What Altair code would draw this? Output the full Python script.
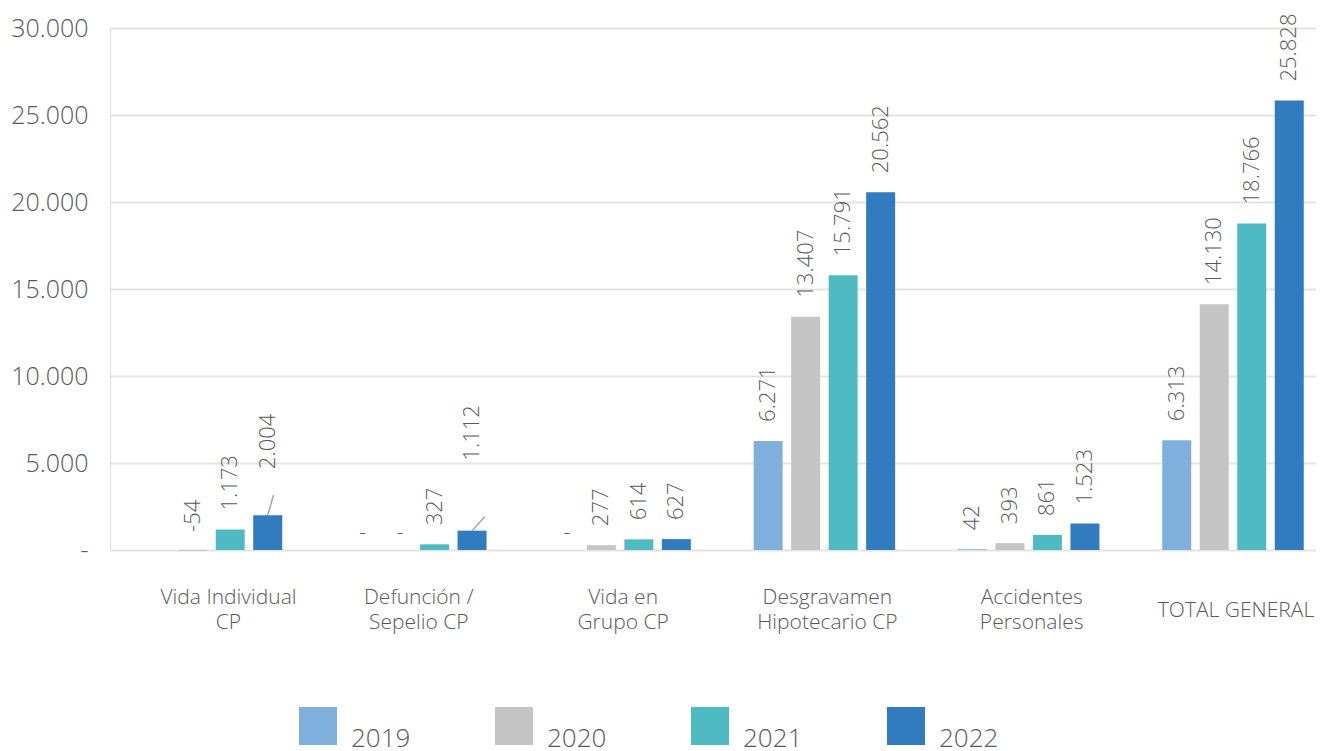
import altair as alt
import pandas as pd

categories = ["Vida Individual CP", "Defunción / Sepelio CP", "Vida en Grupo CP",
              "Desgravamen Hipotecario CP", "Accidentes Personales", "TOTAL GENERAL"]
category_lines = [["Vida Individual", "CP"], ["Defunción /", "Sepelio CP"], ["Vida en", "Grupo CP"],
                  ["Desgravamen", "Hipotecario CP"], ["Accidentes", "Personales"], ["TOTAL GENERAL"]]
years = ["2019", "2020", "2021", "2022"]
v2019 = [None, 0, 0, 6271, 42, 6313]
v2020 = [-54, 0, 277, 13407, 393, 14130]
v2021 = [1173, 327, 614, 15791, 861, 18766]
v2022 = [2004, 1112, 627, 20562, 1523, 25828]
colors = ["#7EAFDD", "#C5C5C5", "#4EBBC3", "#317BBF"]
y_ticks = [0, 5000, 10000, 15000, 20000, 25000, 30000]

rows = []
for yr, vals in zip(years, [v2019, v2020, v2021, v2022]):
    for c, v in zip(categories, vals):
        lbl = "" if v is None else f"{v:,}".replace(",", ".")
        rows.append({"cat": c, "year": yr, "value": v, "lbl": lbl})
df = pd.DataFrame(rows)

FONT = "Open Sans"
GREY = "#595959"

# x axis multi-line label expression
parts = []
for c, lines in zip(categories, category_lines):
    arr = "[" + ",".join("'" + l + "'" for l in lines) + "]"
    parts.append(f"datum.value == '{c}' ? {arr} : ")
x_label_expr = "".join(parts) + "datum.label"

y_label_expr = ("datum.value == 0 ? '-\u00a0\u00a0\u00a0' : "
                "replace(format(datum.value, ','), ',', '.')")

base = alt.Chart(df).encode(
    x=alt.X("cat:N", sort=categories, title=None,
            scale=alt.Scale(paddingInner=0.3074, paddingOuter=0.1052, align=0.715),
            axis=alt.Axis(labelAngle=0, labelFont=FONT, labelFontSize=21, labelFontWeight=300,
                          labelColor=GREY, labelBaseline="middle", labelLineHeight=25,
                          labelPadding={"condition": {"test": "datum.value == 'TOTAL GENERAL'",
                                                      "value": 60}, "value": 47},
                          labelLimit=400, ticks=False, domain=False, grid=False,
                          labelExpr=x_label_expr,
                          labelOffset={"condition": {"test": "datum.value == 'Vida Individual CP'",
                                                     "value": 17}, "value": 3})),
    xOffset=alt.XOffset("year:N", sort=years,
                        scale=alt.Scale(paddingInner=0.2267, paddingOuter=0)),
    y=alt.Y("value:Q", title=None,
            scale=alt.Scale(domain=[0, 30000], nice=False),
            axis=alt.Axis(values=y_ticks, labelExpr=y_label_expr, labelFont=FONT,
                          labelFontSize=25, labelFontWeight=300, labelColor=GREY,
                          labelPadding=22, ticks=False, domain=False,
                          gridColor="#E4E4E4", gridWidth=2)),
)

bars = base.mark_bar().encode(
    color=alt.Color("year:N", sort=years,
                    scale=alt.Scale(domain=years, range=colors),
                    legend=alt.Legend(title=None, orient="none", legendX=189, legendY=679,
                                      direction="horizontal", columns=4, symbolType="square",
                                      symbolSize=1444, symbolStrokeWidth=0, symbolOpacity=1,
                                      labelFont=FONT, labelFontSize=26, labelFontWeight=300,
                                      labelColor=GREY, labelBaseline="top", labelOffset=14,
                                      columnPadding=84, padding=0))
)

moved_a = "datum.cat == 'Vida Individual CP' && datum.year == '2022'"
moved_b = "datum.cat == 'Defunción / Sepelio CP' && datum.year == '2022'"

text_style = dict(angle=270, align="left", baseline="middle", font=FONT, fontSize=22,
                  fontWeight=300, color=GREY)

labels = base.transform_filter(
    f"datum.value != 0 && !({moved_a}) && !({moved_b})"
).mark_text(dx=19, **text_style).encode(text="lbl:N")

label_a = base.transform_filter(moved_a).mark_text(dx=46, **text_style).encode(text="lbl:N")
label_b = base.transform_filter(moved_b).mark_text(dx=70, **text_style).encode(text="lbl:N")

zeros = base.transform_filter("datum.value == 0").mark_text(
    dx=3, dy=-17, font=FONT, fontSize=21, fontWeight=300, color=GREY
).encode(text=alt.value("-"))

# leader lines: x2 resolves to the category centre, so offset from there
lead_a = base.transform_filter(moved_a).mark_rule(
    color="#A6A6A6", strokeWidth=1.5, x2Offset=62, y2Offset=-20
).encode(x2=alt.X2("cat:N"), y2=alt.Y2("value:Q"))
lead_b = base.transform_filter(moved_b).mark_rule(
    color="#A6A6A6", strokeWidth=1.5, x2Offset=69, y2Offset=-14
).encode(x2=alt.X2("cat:N"), y2=alt.Y2("value:Q"))

chart = alt.layer(bars, labels, label_a, label_b, zeros, lead_a, lead_b).properties(
    width=1206, height=522,
    padding={"left": 102, "top": 20, "right": 0, "bottom": 201},
    autosize=alt.AutoSizeParams(type="none"),
).configure_view(strokeWidth=0).configure(background="white")

chart.save("out.html", embed_options={"renderer": "svg", "actions": False})
